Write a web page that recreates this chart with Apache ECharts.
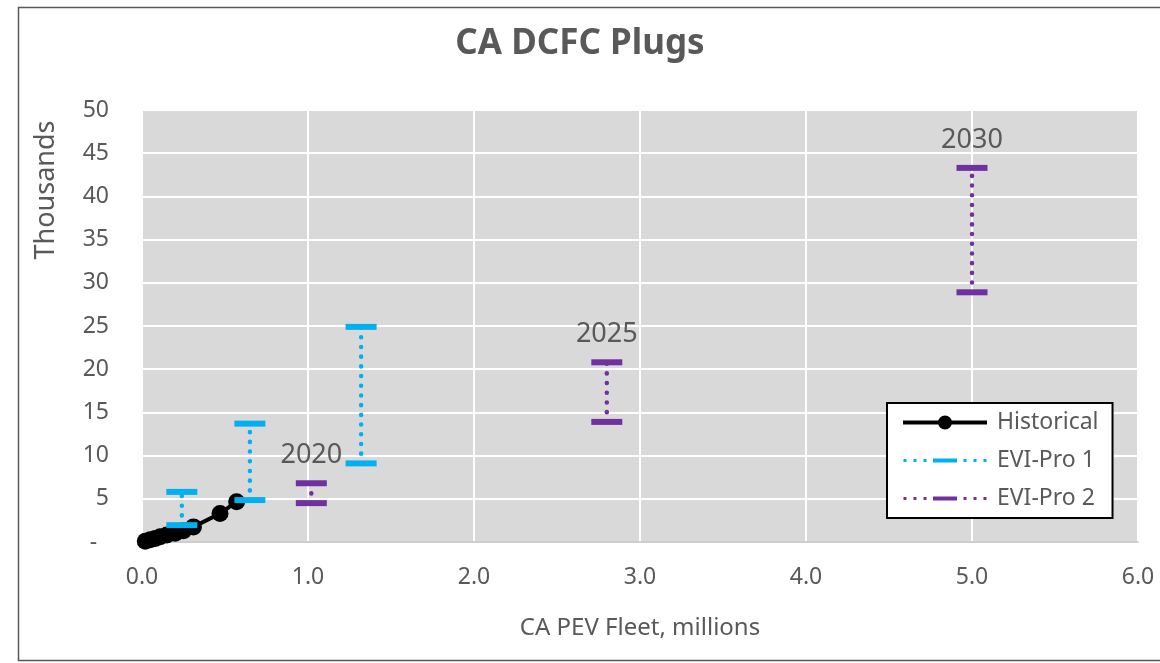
<!DOCTYPE html>
<html>
<head>
<meta charset="utf-8">
<script src="https://cdn.jsdelivr.net/npm/echarts@6/dist/echarts.min.js"></script>
<style>
  html, body { margin: 0; padding: 0; background: #fff; }
  #chart { width: 1160px; height: 663px; }
</style>
</head>
<body>
<div id="chart"></div>
<script>
// historical fleet (millions) vs DCFC plugs (thousands)
const histFleet = [0.02, 0.05, 0.08, 0.11, 0.15, 0.20, 0.25, 0.31, 0.47, 0.57]
const histPlugs = [0.1, 0.25, 0.4, 0.6, 0.8, 1.0, 1.3, 1.75, 3.3, 4.65]

// EVI-Pro 1 ranges
const evi1Fleet = [0.24, 0.65, 1.32]
const evi1Low = [1.95, 4.85, 9.1]
const evi1High = [5.8, 13.7, 24.9]

// EVI-Pro 2 ranges
const evi2Fleet = [1.02, 2.80, 5.0]
const evi2Low = [4.5, 13.9, 28.9]
const evi2High = [6.8, 20.8, 43.3]
const evi2Years = ['2020', '2025', '2030']

const FONT = '"Noto Sans", sans-serif'
const GREY = '#595959'
const BLUE = '#00B0F0'
const PURPLE = '#7030A0'

// legend icons (line + marker), drawn in an 89x14 box
const corners = 'M0,0h0.01v0.01h-0.01Z M89,14h-0.01v-0.01h0.01Z '
const histIcon = 'path://' + corners + 'M0,5L84,5L84,9L0,9Z M35,7A7,7 0 1,1 49,7A7,7 0 1,1 35,7Z'
const eviIcon = 'path://' + corners +
    'M0.5,5.5h3v3h-3Z M10.5,5.5h3v3h-3Z M20.5,5.5h3v3h-3Z ' +
    'M30,5h24v4h-24Z ' +
    'M60.5,5.5h3v3h-3Z M70.5,5.5h3v3h-3Z M80.5,5.5h3v3h-3Z'

function rangeSeries(name, color, xs, lows, highs, labels) {
    return xs.map((x, i) => ({
        name: name,
        type: 'line',
        symbol: 'rect',
        symbolSize: [31, 6],
        itemStyle: { color: color },
        lineStyle: { color: color, width: 4.5, type: [0.1, 9.6], cap: 'round' },
        data: [
            [x, lows[i]],
            labels ? {
                value: [x, highs[i]],
                label: {
                    show: true,
                    position: 'top',
                    distance: 11,
                    formatter: labels[i],
                    fontSize: 27,
                    color: GREY,
                    fontFamily: FONT
                }
            } : [x, highs[i]]
        ]
    }))
}

const chart = echarts.init(document.getElementById('chart'))

const option = {
    animation: false,
    backgroundColor: '#fff',
    textStyle: { fontFamily: FONT },
    title: {
        text: 'CA DCFC Plugs',
        left: 'center',
        top: 22,
        textStyle: { fontSize: 35, fontWeight: 'bold', color: GREY, fontFamily: FONT }
    },
    grid: {
        left: 142,
        right: 22,
        top: 110,
        bottom: 121,
        show: true,
        backgroundColor: '#D9D9D9',
        borderWidth: 0
    },
    legend: {
        orient: 'vertical',
        left: 887,
        top: 403,
        padding: [8, 14, 8, 16],
        itemWidth: 89,
        itemHeight: 14,
        itemGap: 15,
        backgroundColor: '#fff',
        borderColor: '#000',
        borderWidth: 2,
        textStyle: { fontSize: 23, color: GREY, fontFamily: FONT },
        data: [
            { name: 'Historical', icon: histIcon },
            { name: 'EVI-Pro 1', icon: eviIcon },
            { name: 'EVI-Pro 2', icon: eviIcon }
        ]
    },
    xAxis: {
        type: 'value',
        min: 0,
        max: 6,
        interval: 1,
        name: 'CA PEV Fleet, millions',
        nameLocation: 'middle',
        nameGap: 74,
        nameTextStyle: { fontSize: 24, color: GREY, fontFamily: FONT },
        axisLine: { show: true, lineStyle: { color: '#BFBFBF', width: 1.5 } },
        axisTick: { show: false },
        axisLabel: {
            margin: 24,
            fontSize: 23,
            color: GREY,
            fontFamily: FONT,
            formatter: v => v.toFixed(1)
        },
        splitLine: { show: true, lineStyle: { color: '#fff', width: 2 } }
    },
    yAxis: {
        type: 'value',
        min: 0,
        max: 50,
        interval: 5,
        axisLine: { show: false },
        axisTick: { show: false },
        axisLabel: {
            margin: 33,
            fontSize: 23,
            color: GREY,
            fontFamily: FONT,
            formatter: v => (v === 0 ? '-  ' : String(v))
        },
        splitLine: { show: true, lineStyle: { color: '#fff', width: 2 } }
    },
    graphic: [
        {
            type: 'rect',
            shape: { x: 18.5, y: 7.5, width: 1200, height: 653 },
            style: { fill: 'none', stroke: '#595959', lineWidth: 1.5 },
            silent: true,
            z: 100
        },
        {
            type: 'text',
            x: 46,
            y: 190,
            rotation: Math.PI / 2,
            style: {
                text: 'Thousands',
                fontSize: 27,
                fontFamily: FONT,
                fill: GREY,
                align: 'center',
                verticalAlign: 'middle'
            }
        }
    ],
    series: [
        {
            name: 'Historical',
            type: 'line',
            symbol: 'circle',
            symbolSize: 17,
            itemStyle: { color: '#000' },
            lineStyle: { color: '#000', width: 4 },
            data: histFleet.map((x, i) => [x, histPlugs[i]])
        },
        ...rangeSeries('EVI-Pro 1', BLUE, evi1Fleet, evi1Low, evi1High, null),
        ...rangeSeries('EVI-Pro 2', PURPLE, evi2Fleet, evi2Low, evi2High, evi2Years)
    ]
}

chart.setOption(option)
</script>
</body>
</html>
